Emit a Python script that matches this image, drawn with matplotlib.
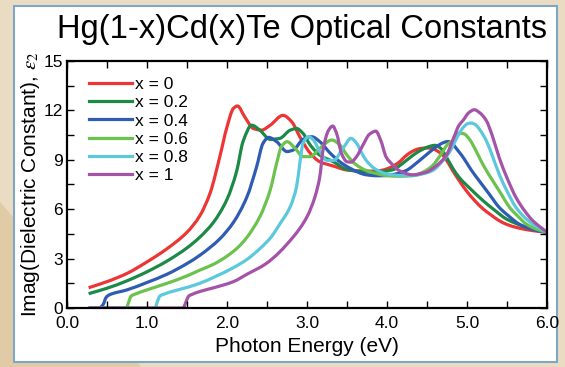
import matplotlib
matplotlib.use("Agg")
import matplotlib.pyplot as plt
import numpy as np
from matplotlib.patches import Rectangle, Polygon, PathPatch
from matplotlib.path import Path
from matplotlib.lines import Line2D
from matplotlib.ticker import MultipleLocator, FormatStrFormatter

plt.rcParams['font.family'] = ['Liberation Sans', 'DejaVu Sans']
plt.rcParams['mathtext.fontset'] = 'stix'

# ---- data (photon energy eV, eps2) ----
labels = ["x = 0", "x = 0.2", "x = 0.4", "x = 0.6", "x = 0.8", "x = 1"]
colours = ["#ee3535", "#1b8a47", "#2f5cb3", "#6bc24c", "#5cc8dc", "#a553a8"]

e_x00 = [0.27, 0.5, 0.75, 1.0, 1.25, 1.5, 1.66, 1.79, 1.91, 2.0, 2.08, 2.13, 2.22, 2.33, 2.43,
         2.54, 2.70, 2.81, 2.91, 3.04, 3.16, 3.33, 3.50, 3.70, 3.85, 3.95, 4.05, 4.15, 4.24, 4.32,
         4.40, 4.50, 4.57, 4.64, 4.70, 4.76, 4.82, 4.90, 4.99, 5.10, 5.20, 5.30, 5.40, 5.50, 5.61,
         5.72, 5.82, 5.92, 6.0]
y_x00 = [1.23, 1.6, 2.1, 2.8, 3.6, 4.6, 5.6, 7.0, 9.19, 11.0, 12.12, 12.27, 11.62, 10.9, 10.8,
         11.1, 11.7, 11.3, 10.4, 9.4, 8.88, 8.62, 8.38, 8.32, 8.31, 8.38, 8.55, 8.85, 9.26, 9.52,
         9.67, 9.72, 9.67, 9.5, 9.26, 8.85, 8.35, 7.75, 7.13, 6.5, 6.02, 5.65, 5.31, 5.07, 4.9,
         4.78, 4.70, 4.64, 4.6]

e_x02 = [0.27, 0.5, 0.75, 1.0, 1.25, 1.5, 1.66, 1.83, 2.0, 2.12, 2.20, 2.31, 2.41, 2.54, 2.66,
         2.79, 2.87, 2.95, 3.04, 3.16, 3.33, 3.50, 3.68, 3.82, 3.95, 4.07, 4.20, 4.32, 4.43, 4.53,
         4.60, 4.67, 4.75, 4.82, 4.90, 5.05, 5.20, 5.35, 5.49, 5.62, 5.74, 5.87, 6.0]
y_x02 = [0.87, 1.2, 1.65, 2.2, 2.85, 3.65, 4.3, 5.2, 6.6, 8.3, 10.1, 11.1, 10.8, 10.24, 10.3,
         10.8, 10.9, 10.6, 9.9, 9.28, 8.88, 8.41, 8.28, 8.25, 8.3, 8.39, 8.8, 9.26, 9.6, 9.81,
         9.88, 9.7, 9.1, 8.5, 7.94, 7.2, 6.52, 5.92, 5.41, 5.12, 4.9, 4.72, 4.6]

e_x04 = [0.27, 0.40, 0.45, 0.49, 0.53, 0.75, 1.0, 1.25, 1.5, 1.66, 1.91, 2.08, 2.25, 2.37, 2.45,
         2.52, 2.62, 2.75, 2.83, 2.95, 3.06, 3.16, 3.29, 3.41, 3.54, 3.74, 3.88, 3.99, 4.12, 4.24,
         4.38, 4.53, 4.65, 4.71, 4.76, 4.82, 4.88, 4.95, 5.05, 5.15, 5.28, 5.40, 5.53, 5.65, 5.80,
         5.90, 6.0]
y_x04 = [0.0, 0.0, 0.2, 0.65, 0.8, 1.1, 1.55, 2.05, 2.7, 3.2, 4.2, 5.2, 6.76, 8.58, 10.0,
         10.36, 10.1, 9.5, 9.6, 10.24, 10.4, 10.1, 9.4, 8.88, 8.48, 8.09, 8.03, 8.04, 8.15, 8.35,
         8.85, 9.46, 9.9, 10.05, 10.11, 9.95, 9.6, 9.16, 8.4, 7.74, 6.9, 6.12, 5.55, 5.1, 4.8,
         4.68, 4.6]

e_x06 = [0.27, 0.74, 0.77, 0.80, 0.84, 1.0, 1.25, 1.5, 1.66, 1.83, 2.0, 2.13, 2.25, 2.41, 2.54,
         2.62, 2.68, 2.75, 2.85, 2.95, 3.04, 3.16, 3.31, 3.41, 3.50, 3.60, 3.74, 3.88, 3.99, 4.15,
         4.32, 4.45, 4.57, 4.67, 4.76, 4.82, 4.86, 4.90, 4.96, 5.03, 5.11, 5.20, 5.32, 5.43, 5.53,
         5.64, 5.74, 5.87, 6.0]
y_x06 = [0.0, 0.0, 0.35, 0.72, 0.82, 1.1, 1.5, 1.95, 2.3, 2.65, 3.15, 3.65, 4.3, 5.54, 7.17,
         8.78, 9.8, 10.1, 9.7, 9.19, 9.19, 9.7, 10.2, 9.9, 9.28, 8.75, 8.35, 8.15, 8.04, 8.0,
         8.04, 8.25, 8.65, 9.3, 9.95, 10.17, 10.45, 10.62, 10.58, 10.25, 9.57, 8.7, 7.74, 6.9, 6.12,
         5.55, 5.1, 4.78, 4.6]

e_x08 = [0.27, 1.10, 1.13, 1.16, 1.20, 1.35, 1.5, 1.66, 1.85, 2.08, 2.25, 2.41, 2.55, 2.66, 2.79,
         2.87, 2.91, 2.95, 3.02, 3.08, 3.16, 3.25, 3.33, 3.45, 3.55, 3.62, 3.68, 3.74, 3.85, 3.99,
         4.15, 4.32, 4.45, 4.57, 4.68, 4.78, 4.88, 4.95, 5.01, 5.05, 5.10, 5.17, 5.24, 5.32, 5.40,
         5.50, 5.61, 5.72, 5.82, 5.92, 6.0]
y_x08 = [0.0, 0.0, 0.4, 0.72, 0.82, 1.05, 1.25, 1.5, 1.9, 2.45, 2.95, 3.6, 4.3, 5.1, 6.15,
         7.39, 8.78, 10.0, 10.4, 10.2, 9.5, 8.96, 8.96, 9.7, 10.3, 10.0, 9.45, 8.96, 8.45, 8.15,
         8.05, 8.04, 8.15, 8.35, 8.85, 9.46, 10.4, 10.95, 11.2, 11.23, 11.15, 10.75, 10.17, 9.2, 8.15,
         7.1, 6.12, 5.5, 5.1, 4.8, 4.6]

e_x10 = [0.27, 1.45, 1.49, 1.52, 1.56, 1.66, 1.85, 2.08, 2.25, 2.49, 2.83, 3.0, 3.1, 3.16, 3.2,
         3.27, 3.32, 3.37, 3.43, 3.50, 3.55, 3.62, 3.70, 3.78, 3.86, 3.92, 3.99, 4.07, 4.15, 4.32,
         4.49, 4.62, 4.74, 4.83, 4.90, 4.95, 5.02, 5.09, 5.16, 5.24, 5.32, 5.40, 5.50, 5.61, 5.72,
         5.82, 5.92, 6.0]
y_x10 = [0.0, 0.0, 0.4, 0.72, 0.82, 1.0, 1.25, 1.6, 2.05, 2.7, 4.33, 5.54, 6.76, 7.98, 9.6,
         10.8, 11.05, 10.6, 9.4, 8.88, 8.86, 9.2, 9.9, 10.55, 10.74, 10.2, 9.16, 8.7, 8.35, 8.09,
         8.25, 8.65, 9.26, 10.3, 11.1, 11.39, 11.85, 12.04, 11.85, 11.39, 10.4, 9.16, 7.9, 6.73, 5.9,
         5.31, 4.9, 4.6]

energies = [e_x00, e_x02, e_x04, e_x06, e_x08, e_x10]
eps2 = [y_x00, y_x02, y_x04, y_x06, y_x08, y_x10]


def smooth_path(xs, ys):
    # bezier path through the read points (monotone hermite slopes, no overshoot)
    x = np.asarray(xs, float)
    y = np.asarray(ys, float)
    h = np.diff(x)
    d = np.diff(y) / h
    m = np.zeros_like(x)
    m[0], m[-1] = d[0], d[-1]
    for k in range(1, len(x) - 1):
        if d[k - 1] * d[k] > 0:
            w1 = 2 * h[k] + h[k - 1]
            w2 = h[k] + 2 * h[k - 1]
            m[k] = (w1 + w2) / (w1 / d[k - 1] + w2 / d[k])
    verts = [(x[0], y[0])]
    codes = [Path.MOVETO]
    for k in range(len(x) - 1):
        verts += [(x[k] + h[k] / 3, y[k] + m[k] * h[k] / 3),
                  (x[k + 1] - h[k] / 3, y[k + 1] - m[k + 1] * h[k] / 3),
                  (x[k + 1], y[k + 1])]
        codes += [Path.CURVE4] * 3
    return Path(verts, codes)


# ---- figure with beige backdrop and white panel ----
fig = plt.figure(figsize=(5.65, 3.67), dpi=100)
fig.patch.set_facecolor("#e9dcc3")
fig.patches.append(Polygon([[0.0, 0.0], [0.0, 0.45], [0.25, 0.0]], closed=True,
                           transform=fig.transFigure, facecolor="#e0cba6", edgecolor="none", zorder=0))
fig.patches.append(Rectangle((0.0248, 0.0136), 0.961, 0.970, transform=fig.transFigure,
                             facecolor="white", edgecolor="#7ea6c8", linewidth=1.5, zorder=1))

ax = fig.add_axes([0.1186, 0.1608, 0.8496, 0.673])
ax.set_zorder(2)
ax.set_facecolor("white")

handles = []
for i in range(len(labels)):
    ax.add_patch(PathPatch(smooth_path(energies[i], eps2[i]), fill=False, edgecolor=colours[i],
                           lw=2.3, joinstyle="round", capstyle="butt"))
    handles.append(Line2D([], [], color=colours[i], lw=2.3, label=labels[i]))

ax.set_xlim(0, 6)
ax.set_ylim(0, 15)
ax.xaxis.set_major_locator(MultipleLocator(1))
ax.xaxis.set_minor_locator(MultipleLocator(0.5))
ax.yaxis.set_major_locator(MultipleLocator(3))
ax.yaxis.set_minor_locator(MultipleLocator(1.5))
ax.xaxis.set_major_formatter(FormatStrFormatter("%.1f"))
ax.tick_params(which="both", direction="in", top=True, right=True, labelsize=12.5, width=1)
ax.tick_params(axis="x", pad=6)
ax.tick_params(axis="y", pad=3)
ax.tick_params(which="major", length=5)
ax.tick_params(which="minor", length=5)
for s in ax.spines.values():
    s.set_linewidth(1.6)

ax.set_xlabel("Photon Energy (eV)", fontsize=15, labelpad=4)
ax.set_ylabel("Imag(Dielectric Constant), $\\varepsilon_2$", fontsize=15, labelpad=1)

ax.legend(handles=handles, loc="upper left", frameon=False, fontsize=12.5, handlelength=2.5,
          handletextpad=0.15, labelspacing=0.18, borderaxespad=0.3,
          bbox_to_anchor=(0.02, 0.985))

fig.text(0.535, 0.92, "Hg(1-x)Cd(x)Te Optical Constants", fontsize=23.5, ha="center", va="center")

fig.savefig("out.png", dpi=100, facecolor=fig.get_facecolor())
